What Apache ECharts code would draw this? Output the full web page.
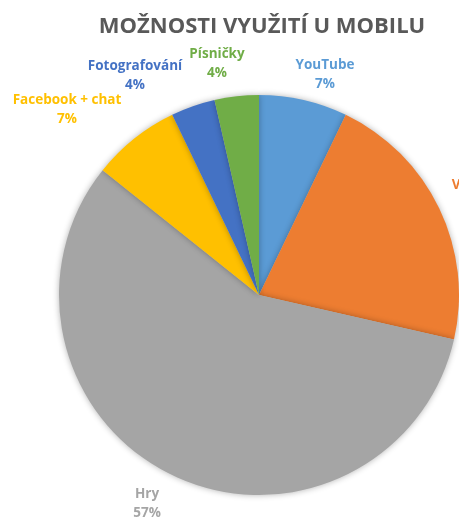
<!DOCTYPE html>
<html>
<head>
<meta charset="utf-8">
<script src="https://cdn.jsdelivr.net/npm/echarts@6/dist/echarts.min.js"></script>
<style>
html,body{margin:0;padding:0;background:#fff;}
#c{width:459px;height:521px;}
</style>
</head>
<body>
<div id="c"></div>
<script>
var categories = ["YouTube", "Volání", "Hry", "Facebook + chat", "Fotografování", "Písničky"];
var values = [2, 6, 16, 2, 1, 1];
var percentLabels = ["7%", "21%", "57%", "7%", "4%", "4%"];
var colors = ["#5B9BD5", "#ED7D31", "#A5A5A5", "#FFC000", "#4472C4", "#70AD47"];
var labelPos = [[325, 75, "center"], [473, 195, "center"], [147, 504, "center"], [67, 110, "center"], [135, 76, "center"], [217, 64, "center"]];

var chart = echarts.init(document.getElementById('c'));
var data = categories.map(function (n, i) {
  return {
    name: n, value: values[i],
    itemStyle: { color: colors[i] },
    label: { color: colors[i], formatter: n + "\n" + percentLabels[i] }
  };
});
chart.setOption({
  animation: false,
  title: {
    text: "MOŽNOSTI VYUŽITÍ U MOBILU",
    left: 257, top: 11, textAlign: 'center',
    textStyle: { fontFamily: "Open Sans", fontWeight: "bold", fontSize: 22, color: "#595959" }
  },
  series: [{
    type: 'pie',
    center: [259, 295],
    radius: [0, 200],
    startAngle: 90,
    clockwise: true,
    data: data,
    itemStyle: { borderWidth: 0, shadowBlur: 6, shadowColor: 'rgba(0,0,0,0.3)' },
    label: {
      show: true, position: 'outside', overflow: 'none', width: 200,
      fontFamily: "Open Sans", fontWeight: "bold", fontSize: 13.5, lineHeight: 19, align: 'center'
    },
    labelLine: { show: false },
    labelLayout: function (p) {
      var lp = labelPos[p.dataIndex];
      return { x: lp[0], y: lp[1], align: lp[2], verticalAlign: 'middle', hideOverlap: false };
    }
  }]
});
</script>
</body>
</html>
